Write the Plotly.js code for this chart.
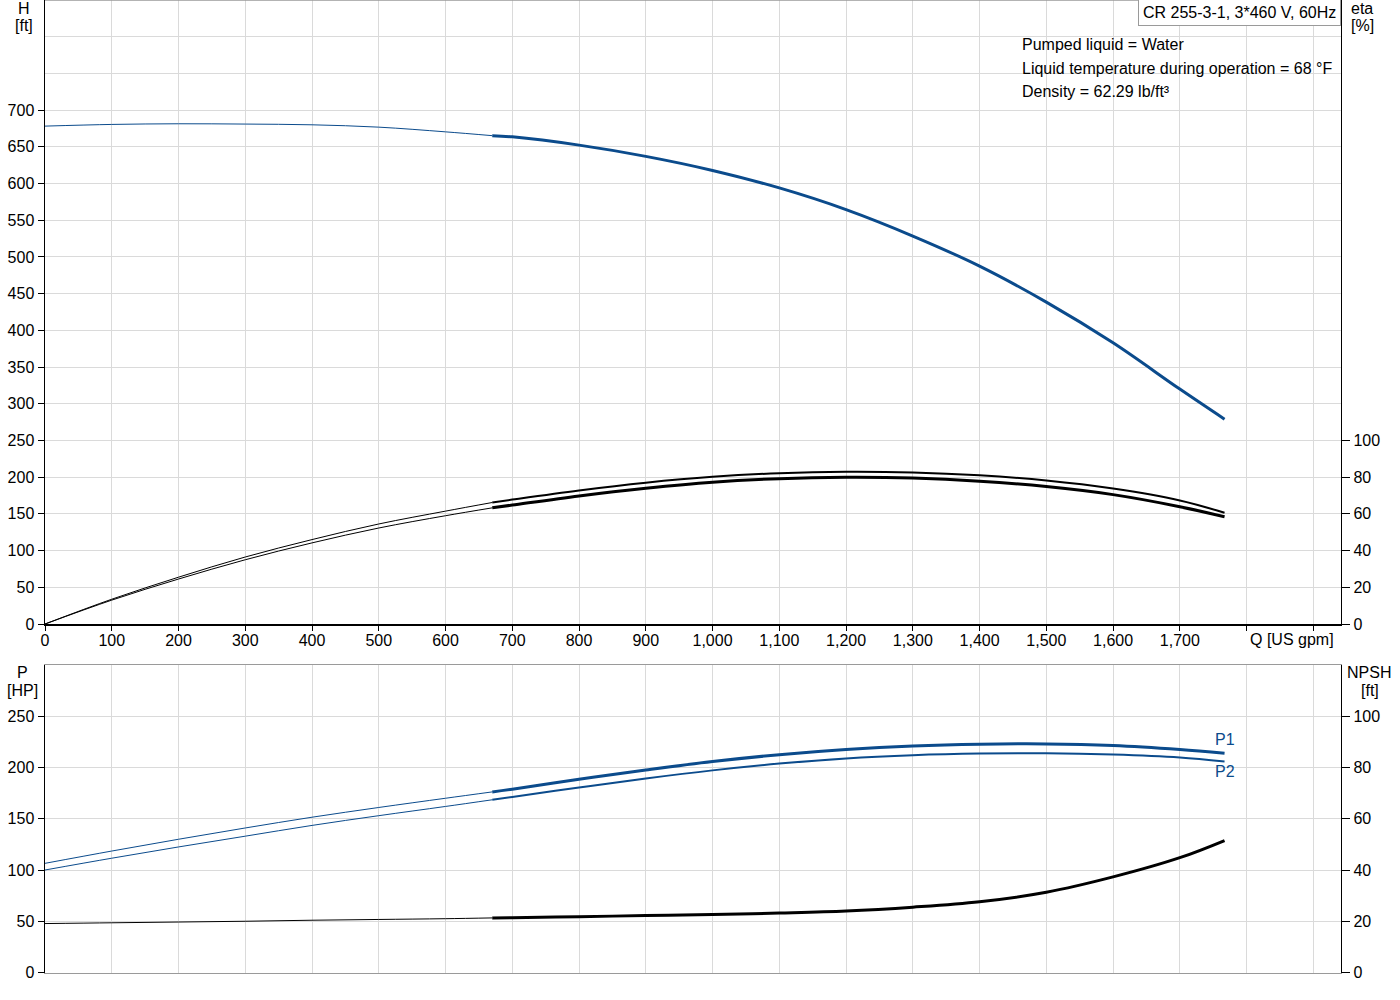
<!DOCTYPE html>
<html>
<head>
<meta charset="utf-8">
<script src="https://cdn.plot.ly/plotly-3.0.1.min.js"></script>
<style>
  html, body { margin: 0; padding: 0; background: #fff; }
  #grafico { width: 1400px; height: 1000px; }
</style>
</head>
<body>
<div id="grafico"></div>
<script>
// flow points: thin part (outside range) and thick part (operating range)
const qThin  = [0, 100, 200, 300, 400, 500, 600, 670];
const qThick = [670, 700, 800, 900, 1000, 1100, 1200, 1300, 1400, 1500, 1600, 1700, 1767];

// head H [ft]
const hThin  = [678.2, 680.5, 681.4, 681, 680, 676.8, 670.4, 665.2];
const hThick = [665.2, 663.6, 652.3, 637, 617.8, 594, 564.5, 528.5, 487.5, 438.5, 383, 320, 279];

// efficiency eta [%] (two curves)
const etaAThin  = [0, 13.5, 25.5, 36.5, 46, 54.5, 61.5, 66.2];
const etaAThick = [66.2, 67.8, 72.8, 77, 80.2, 82.2, 83, 82.6, 81, 78.2, 73.8, 67.3, 60.6];
const etaBThin  = [0, 13, 24.5, 35, 44.2, 52.3, 59, 63.3];
const etaBThick = [63.3, 64.8, 69.8, 74, 77.3, 79.2, 79.9, 79.5, 77.8, 74.9, 70.5, 63.9, 58.4];

// power P1 / P2 [HP]
const p1Thin  = [106.5, 118.5, 130, 141, 151.5, 161, 170, 176.2];
const p1Thick = [176.2, 178.8, 188.5, 197.5, 205.8, 212.5, 217.6, 221, 222.7, 223, 221.4, 217.5, 213.9];
const p2Thin  = [100, 111.5, 122.5, 133, 143.5, 153, 162, 168.5];
const p2Thick = [168.5, 171.3, 180.5, 189.3, 197.2, 203.8, 208.9, 212, 213.6, 213.9, 212.6, 209.7, 205.8];

// NPSH [ft]
const npshThin  = [19.1, 19.4, 19.7, 20, 20.4, 20.7, 21, 21.3];
const npshThick = [21.3, 21.4, 21.8, 22.2, 22.6, 23.2, 24, 25.5, 27.6, 31.3, 37.3, 44.8, 51.5];

// ticks
const qTicks = [0, 100, 200, 300, 400, 500, 600, 700, 800, 900, 1000, 1100, 1200, 1300, 1400, 1500, 1600, 1700, 1800, 1900];
const hTicks = [0, 50, 100, 150, 200, 250, 300, 350, 400, 450, 500, 550, 600, 650, 700];
const hGridExtra = [750, 800, 850];
const etaTicks = [0, 20, 40, 60, 80, 100];
const pTicks = [0, 50, 100, 150, 200, 250];
const pGridExtra = [300];
const npshTicks = [0, 20, 40, 60, 80, 100];

const BLUE = '#0b4b8c';
const FONT = { family: 'Liberation Sans, Arial, sans-serif', size: 16, color: '#000' };
const GRID = '#dadada';

function linha(x, y, xa, ya, cor, largura) {
    return { x: x, y: y, xaxis: xa, yaxis: ya, type: 'scatter', mode: 'lines',
             line: { color: cor, width: largura, shape: 'spline', smoothing: 1 }, hoverinfo: 'skip' };
}

// text label in paper pixels (px from left, px from top)
function rotulo(texto, px, py, xanchor, extra) {
    return Object.assign({ text: texto, xref: 'paper', yref: 'paper', x: px / 1400, y: 1 - py / 1000,
             xanchor: xanchor || 'center', yanchor: 'middle', showarrow: false, font: FONT }, extra || {});
}

const traces = [
    linha(qThin, hThin, 'x', 'y', BLUE, 1),
    linha(qThick, hThick, 'x', 'y', BLUE, 3),
    linha(qThin, etaAThin, 'x', 'y2', '#000', 1),
    linha(qThin, etaBThin, 'x', 'y2', '#000', 1),
    linha(qThick, etaAThick, 'x', 'y2', '#000', 2),
    linha(qThick, etaBThick, 'x', 'y2', '#000', 3),
    linha(qThin, p1Thin, 'x2', 'y3', BLUE, 1),
    linha(qThin, p2Thin, 'x2', 'y3', BLUE, 1),
    linha(qThick, p1Thick, 'x2', 'y3', BLUE, 3),
    linha(qThick, p2Thick, 'x2', 'y3', BLUE, 2),
    linha(qThin, npshThin, 'x2', 'y4', '#000', 1),
    linha(qThick, npshThick, 'x2', 'y4', '#000', 3)
];

const xDom = [45 / 1400, 1340.7 / 1400];
const qRange = [0, 1941];

const layout = {
    width: 1400, height: 1000,
    margin: { l: 0, r: 0, t: 0, b: 0 },
    paper_bgcolor: '#fff', plot_bgcolor: '#fff',
    showlegend: false,
    font: FONT,
    xaxis: {
        domain: xDom, range: qRange, anchor: 'y',
        tickvals: qTicks,
        ticktext: qTicks.map(v => v <= 1700 ? v.toLocaleString('en-US') : ''),
        ticks: 'outside', ticklen: 5, tickcolor: '#000', ticklabelstandoff: -4,
        showline: true, linecolor: '#000', linewidth: 2,
        showgrid: true, gridcolor: GRID, zeroline: false, tickfont: FONT
    },
    yaxis: {
        domain: [0.376, 1], range: [0, 850], anchor: 'x',
        tickvals: hTicks,
        ticks: 'outside', ticklen: 6, tickcolor: '#000',
        showline: true, linecolor: '#000', linewidth: 1.5,
        showgrid: true, gridcolor: GRID, zeroline: false, tickfont: FONT,
        minor: { tickmode: 'array', tickvals: hGridExtra, ticks: '', showgrid: true, gridcolor: GRID, gridwidth: 1 }
    },
    yaxis2: {
        overlaying: 'y', side: 'right', anchor: 'x', range: [0, 340],
        tickvals: etaTicks, ticks: 'outside', ticklen: 8, tickcolor: '#000',
        showline: true, linecolor: '#000', linewidth: 1.5,
        showgrid: false, zeroline: false, tickfont: FONT
    },
    xaxis2: {
        domain: xDom, range: qRange, anchor: 'y3',
        tickvals: qTicks, showticklabels: false, ticks: '',
        showline: true, mirror: true, linecolor: '#9a9a9a', linewidth: 1.5,
        showgrid: true, gridcolor: GRID, zeroline: false
    },
    yaxis3: {
        domain: [0.0275, 0.335], range: [0, 300], anchor: 'x2',
        tickvals: pTicks,
        ticks: 'outside', ticklen: 6, tickcolor: '#000',
        showline: true, linecolor: '#000', linewidth: 1.5,
        showgrid: true, gridcolor: GRID, zeroline: false, tickfont: FONT,
        minor: { tickmode: 'array', tickvals: pGridExtra, ticks: '', showgrid: true, gridcolor: GRID, gridwidth: 1 }
    },
    yaxis4: {
        overlaying: 'y3', side: 'right', anchor: 'x2', range: [0, 120],
        tickvals: npshTicks, ticks: 'outside', ticklen: 8, tickcolor: '#000',
        showline: true, linecolor: '#000', linewidth: 1.5,
        showgrid: false, zeroline: false, tickfont: FONT
    },
    shapes: [
        // grey top border of the upper chart
        { type: 'line', xref: 'x domain', yref: 'y domain', x0: 0, x1: 1, y0: 1, y1: 1,
          line: { color: '#9a9a9a', width: 1.5 } }
    ],
    annotations: [
        rotulo('H', 24, 8),
        rotulo('[ft]', 24, 25),
        rotulo('eta', 1362, 8),
        rotulo('[%]', 1362, 25),
        rotulo('P', 22, 672),
        rotulo('[HP]', 22, 690),
        rotulo('NPSH', 1369, 672),
        rotulo('[ft]', 1370, 690),
        rotulo('Q [US gpm]', 1292, 639),
        rotulo('CR 255-3-1, 3*460 V, 60Hz', 1341, -1, 'right',
               { yanchor: 'top', bgcolor: '#fff', bordercolor: '#9a9a9a', borderwidth: 1, borderpad: 4 }),
        rotulo('Pumped liquid = Water', 1020, 44, 'left'),
        rotulo('Liquid temperature during operation = 68 °F', 1020, 68, 'left'),
        rotulo('Density = 62.29 lb/ft³', 1020, 92, 'left'),
        { text: 'P1', xref: 'x2', yref: 'y3', x: qThick[qThick.length - 1], y: p1Thick[p1Thick.length - 1],
          yshift: 14, showarrow: false, font: { family: FONT.family, size: 16, color: BLUE } },
        { text: 'P2', xref: 'x2', yref: 'y3', x: qThick[qThick.length - 1], y: p2Thick[p2Thick.length - 1],
          yshift: -10, showarrow: false, font: { family: FONT.family, size: 16, color: BLUE } }
    ]
};

Plotly.newPlot('grafico', traces, layout, { staticPlot: true });
</script>
</body>
</html>
